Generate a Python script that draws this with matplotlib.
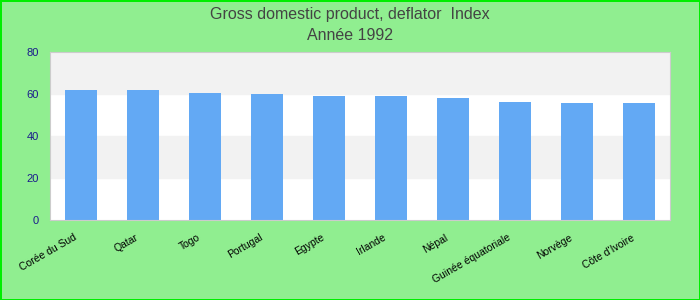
import numpy as np
import matplotlib.pyplot as plt
import matplotlib.transforms as mtransforms
plt.rc('font', family='Liberation Sans')

countries = ['Corée du Sud', 'Qatar', 'Togo', 'Portugal', 'Egypte', 'Irlande',
             'Népal', 'Guinée équatoriale', 'Norvège', "Côte d'Ivoire"]
values = [61.8, 61.7, 60.4, 59.9, 58.9, 58.9, 57.9, 56.0, 55.6, 55.5]

fig = plt.figure(figsize=(7, 3), dpi=100, facecolor='#90ee90',
                 edgecolor='#00ee00', linewidth=2)
ax = fig.add_axes([50/700, 1-220/300, 620/700, 168/300])
ax.set_facecolor('white')

# alternating horizontal bands
for lo in (20, 60):
    ax.axhspan(lo, lo+20, color='#f2f2f2', zorder=0)

x = np.arange(len(countries))
ax.bar(x, values, width=0.52, color='#63a9f4', zorder=2)
ax.set_xlim(-0.5, len(countries)-0.5)
ax.set_ylim(0, 80)
ax.set_yticks([0, 20, 40, 60, 80])
ax.tick_params(axis='y', length=0, labelsize=8, labelcolor='#1a1a8c', pad=8)
ax.tick_params(axis='x', length=0, labelsize=7.5, pad=4)
ax.set_xticks(x)
ax.set_xticklabels(countries, rotation=30, ha='right', rotation_mode='anchor')
# labels sit a little left of and below the tick in the original
shift = mtransforms.ScaledTranslation(-8/100, -7/100, fig.dpi_scale_trans)
for lab in ax.get_xticklabels():
    lab.set_transform(lab.get_transform() + shift)
for s in ax.spines.values():
    s.set_color('#cccccc')

fig.text(0.5, 1-14/300, 'Gross domestic product, deflator  Index', ha='center',
         va='center', fontsize=11.5, color='#444444')
fig.text(0.5, 1-35/300, 'Année 1992', ha='center', va='center',
         fontsize=11.5, color='#444444')

plt.savefig('out.png', facecolor=fig.get_facecolor(), edgecolor=fig.get_edgecolor())
